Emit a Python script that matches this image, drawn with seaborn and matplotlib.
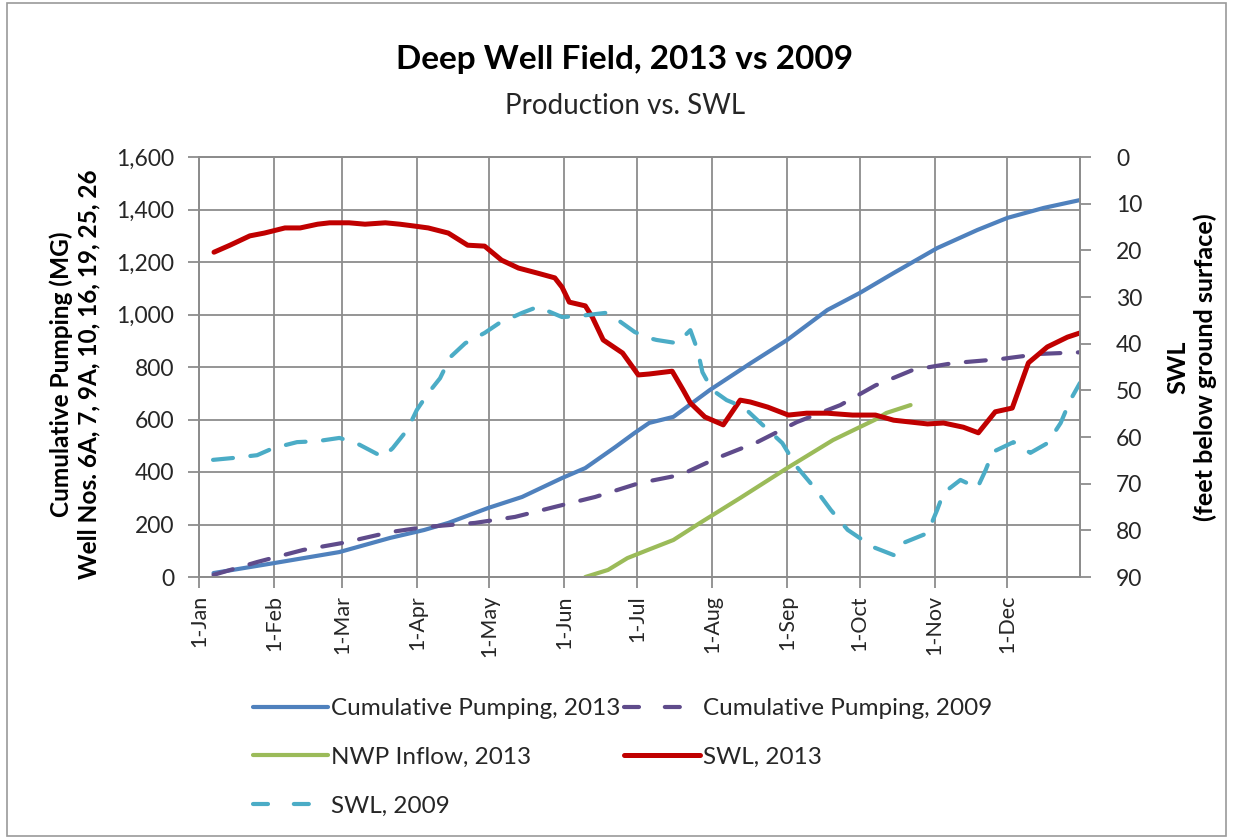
import matplotlib
matplotlib.use("Agg")
import matplotlib.pyplot as plt
import seaborn as sns
import pandas as pd
import numpy as np
from matplotlib.patches import Rectangle

# ---------------- data (day of year, 0 = 1-Jan) ----------------
cum13_day = [6, 31, 58, 79, 93, 103, 119.5, 133.5, 150, 159.6, 172, 180, 186, 196, 211,
             228, 243, 259.6, 273, 287, 305, 321.6, 334, 349, 364]
cum13_val = [15, 53, 95, 149, 179, 206, 263, 305, 377, 415, 495, 549, 587, 610, 712,
             815, 903, 1017, 1082, 1158, 1253, 1322, 1368, 1406, 1436]

cum09_day = [6, 24, 43, 59.5, 79, 93, 114, 130.6, 147, 163.7, 182, 199, 214, 230.7, 247,
             265, 279.5, 295, 311.7, 331, 347.7, 364]
cum09_val = [8, 57, 103, 130, 171, 190, 206, 229, 267, 305, 358, 389, 453, 514, 590,
             655, 730, 789, 815, 830, 850, 856]

nwp_day = [159.6, 169, 177, 186, 196, 207, 223.6, 243, 262, 279.5, 284, 294]
nwp_val = [0, 27, 72, 105, 141, 206, 301, 415, 522, 600, 625, 655]

swl13_day = [6.2, 12.8, 21, 27, 35.5, 41.8, 49, 54, 62, 68.6, 77, 83, 89, 94.7, 103, 111,
             118, 125, 132, 140, 147, 150, 153, 159.6, 162.5, 167, 175, 181.5, 186, 195.5,
             200, 203, 209, 216.6, 223.6, 227.8, 235, 243.5, 251, 259.6, 270, 279.5, 287,
             301, 307.6, 315.8, 322, 329, 336, 342.7, 350.5, 358.8, 364]
swl13_val = [20.4, 18.9, 16.9, 16.3, 15.2, 15.2, 14.4, 14.1, 14.1, 14.4, 14.1, 14.4, 14.8,
             15.2, 16.3, 18.9, 19.1, 22.1, 23.8, 24.9, 25.9, 27.9, 31.1, 31.9, 34.3, 39.2,
             42.0, 46.7, 46.5, 45.9, 49.9, 52.7, 55.7, 57.4, 52.1, 52.5, 53.6, 55.3, 54.9,
             54.9, 55.3, 55.3, 56.4, 57.2, 57.0, 57.9, 59.1, 54.6, 53.8, 44.1, 40.7, 38.6, 37.7]

swl09_day = [5.8, 14, 24, 30.6, 40.5, 48.8, 58, 65, 76, 80, 86, 90, 94.7, 99.6, 103.8, 110,
             118, 124, 133.5, 140, 150, 156.7, 168, 173, 180, 186, 189, 197.6, 203, 206,
             208, 212, 218, 225, 232, 241, 247, 254, 261, 268, 278.6, 287, 291, 301, 305,
             307.6, 314.6, 321.6, 325, 328, 336.5, 343.5, 350.6, 356, 360, 364]
swl09_val = [64.9, 64.5, 63.9, 62.4, 61.1, 60.9, 60.2, 61.3, 64.3, 62.4, 58.5, 54.2, 50.6,
             47.4, 42.9, 39.9, 37.7, 35.6, 33.4, 32.1, 34.3, 34.1, 33.4, 34.9, 37.5, 38.8,
             39.2, 39.9, 37.1, 41.4, 46.1, 49.9, 52.1, 53.6, 57.0, 61.3, 66.4, 70.7, 75.6,
             79.9, 83.6, 85.3, 82.7, 80.6, 75.6, 72.0, 69.2, 70.9, 67.1, 63.2, 61.1, 63.4,
             61.3, 57.0, 52.1, 48.4]

month_dates = ["2013-01-01", "2013-02-01", "2013-03-01", "2013-04-01", "2013-05-01",
               "2013-06-01", "2013-07-01", "2013-08-01", "2013-09-01", "2013-10-01",
               "2013-11-01", "2013-12-01"]
month_labels = ["1-Jan", "1-Feb", "1-Mar", "1-Apr", "1-May", "1-Jun", "1-Jul", "1-Aug",
                "1-Sep", "1-Oct", "1-Nov", "1-Dec"]
left_ticks = [0, 200, 400, 600, 800, 1000, 1200, 1400, 1600]
right_ticks = [0, 10, 20, 30, 40, 50, 60, 70, 80, 90]

labels = ["Cumulative Pumping, 2013", "Cumulative Pumping, 2009", "NWP Inflow, 2013",
          "SWL, 2013", "SWL, 2009"]
colors = ["#4F81BD", "#5F4B8B", "#9BBB59", "#C00000", "#4BACC6"]

# ---------------- figure ----------------
sns.set_theme(style="white")
FONT = "Lato"
plt.rcParams["font.family"] = [FONT, "DejaVu Sans"]

W, H = 1234, 839
fig = plt.figure(figsize=(W / 100, H / 100), dpi=100)
fig.patch.set_facecolor("white")
ax = fig.add_axes([199 / W, 1 - 577 / H, (1080 - 199) / W, (577 - 157) / H])
ax2 = ax.twinx()

GRID = "#8C8C8C"
LW = 3.0
TXT = "#262626"

def draw(axis, xs, ys, color, label, dashes=None):
    df = pd.DataFrame({"x": xs, "y": ys})
    sns.lineplot(data=df, x="x", y="y", ax=axis, color=color, linewidth=LW,
                 estimator=None, sort=False, label=label, legend=False)
    ln = axis.lines[-1]
    ln.set_solid_capstyle("round")
    ln.set_solid_joinstyle("round")
    if dashes is not None:
        ln.set_dashes(dashes)
        ln.set_dash_capstyle("round")
    return ln

h_cum13 = draw(ax, cum13_day, cum13_val, colors[0], labels[0])
h_cum09 = draw(ax, cum09_day, cum09_val, colors[1], labels[1], dashes=[4.8, 4.2])
h_nwp = draw(ax, nwp_day, nwp_val, colors[2], labels[2])
h_swl13 = draw(ax2, swl13_day, swl13_val, colors[3], labels[3])
h_swl09 = draw(ax2, swl09_day, swl09_val, colors[4], labels[4], dashes=[4.8, 4.2])
h_swl13.set_linewidth(3.6)

tick_pos = [pd.Timestamp(d).dayofyear - 1 for d in month_dates]

ax.set_xlim(0, 364)
ax.set_ylim(0, 1600)
ax2.set_ylim(90, 0)

ax.set_xticks(tick_pos)
ax.set_xticklabels(month_labels, rotation=90, fontsize=15.5, color=TXT)
ax.set_yticks(left_ticks)
ax.set_yticklabels([f"{v:,}" for v in left_ticks], fontsize=16.5, color=TXT)
ax2.set_yticks(right_ticks)
ax2.set_yticklabels([str(v) for v in right_ticks], fontsize=16.5, color=TXT)

ax.grid(True, axis="both", color=GRID, linewidth=1.3)
ax2.grid(False)
ax.set_axisbelow(True)
ax.set_zorder(ax2.get_zorder() - 1)
ax2.patch.set_visible(False)
ax.patch.set_facecolor("white")

for a in (ax, ax2):
    for s in a.spines.values():
        s.set_color(GRID)
        s.set_linewidth(1.3)
    a.set_xlabel("")
    a.set_ylabel("")

ax.tick_params(axis="x", direction="out", length=8, width=1.3, color=GRID, pad=5, bottom=True)
ax.tick_params(axis="y", direction="out", length=8, width=1.3, color=GRID, pad=10, left=True)
ax2.tick_params(axis="y", direction="out", length=8, width=1.3, color=GRID, pad=18, right=True)

# titles
fig.text(625 / W, 1 - 60 / H, "Deep Well Field, 2013 vs 2009", ha="center", va="center",
         fontsize=24, fontweight="bold", color="black")
fig.text(625 / W, 1 - 106 / H, "Production vs. SWL", ha="center", va="center",
         fontsize=20, color=TXT)

# axis labels
fig.text(75 / W, 1 - 374 / H, "Cumulative Pumping (MG)\nWell Nos. 6A, 7, 9A, 10, 16, 19, 25, 26",
         rotation=90, ha="center", va="center", multialignment="center",
         fontsize=17.6, fontweight="bold", color="black", linespacing=1.22)
fig.text(1192 / W, 1 - 367 / H, "SWL\n(feet below ground surface)",
         rotation=90, ha="center", va="center", multialignment="center",
         fontsize=18.2, fontweight="bold", color="black", linespacing=1.2)

# legend (row-major order as in the reference)
handles = [h_cum13, h_nwp, h_swl09, h_cum09, h_swl13]
leg_labels = [labels[0], labels[2], labels[4], labels[1], labels[3]]
leg = fig.legend(handles, leg_labels, ncol=2, loc="upper left",
                 bbox_to_anchor=(253 / W, 1 - 698 / H), frameon=False,
                 fontsize=17.5, handlelength=3.1, handletextpad=0.12,
                 columnspacing=0.15, labelspacing=1.15, borderaxespad=0,
                 borderpad=0)
for t in leg.get_texts():
    t.set_color(TXT)
for lh, lab in zip(leg.legend_handles, leg_labels):
    if lab in (labels[1], labels[4]):
        lh.set_dashes([3.6, 6.2])
        lh.set_dash_capstyle("round")
        lh.set_solid_capstyle("round")

# outer border
fig.patches.append(Rectangle((7 / W, 3 / H), (1226 - 7) / W, (836 - 3) / H,
                             transform=fig.transFigure, fill=False,
                             edgecolor="#9a9a9a", linewidth=1.2))

fig.savefig("out.png", dpi=100, facecolor="white")
